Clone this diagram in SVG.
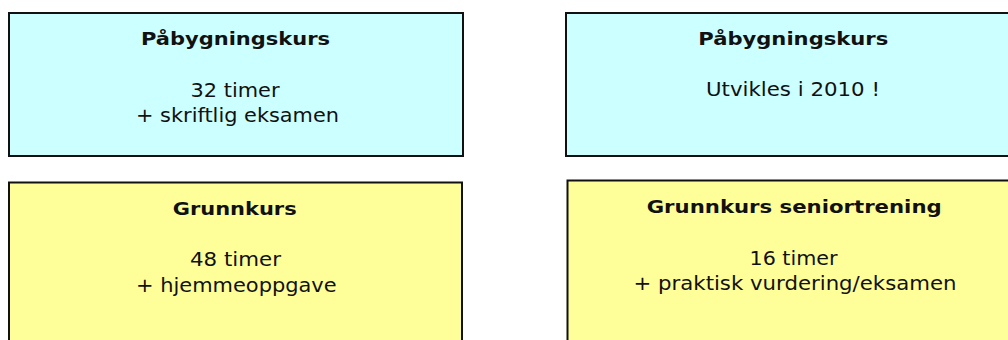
<svg xmlns="http://www.w3.org/2000/svg" width="1008" height="340" viewBox="0 0 1008 340">
<style>
.cyan{fill:#CCFFFF;stroke:#111;stroke-width:2}
.yel{fill:#FFFF99;stroke:#111;stroke-width:2}
.t{font-family:"DejaVu Sans",Verdana,sans-serif;font-size:18px;font-weight:bold;fill:#111;text-anchor:middle}
.b{font-family:"DejaVu Sans",Verdana,sans-serif;font-size:20px;fill:#111;text-anchor:middle}
</style>
<rect width="1008" height="340" fill="#fff"/>
<g id="node-pabygning-left">
<rect class="cyan" x="9" y="13" width="454" height="143"/>
<text class="t" x="235.5" y="44.5" textLength="189" lengthAdjust="spacingAndGlyphs">Påbygningskurs</text>
<text class="b" x="235" y="96.5" textLength="89" lengthAdjust="spacingAndGlyphs">32 timer</text>
<text class="b" x="237.5" y="122" textLength="203" lengthAdjust="spacingAndGlyphs">+ skriftlig eksamen</text>
</g>
<g id="node-pabygning-right">
<rect class="cyan" x="566" y="13" width="456" height="143"/>
<text class="t" x="793.3" y="44.5" textLength="190" lengthAdjust="spacingAndGlyphs">Påbygningskurs</text>
<text class="b" x="793" y="96" textLength="174" lengthAdjust="spacingAndGlyphs">Utvikles i 2010 !</text>
</g>
<g id="node-grunnkurs-left">
<rect class="yel" x="9" y="182.5" width="453" height="170"/>
<text class="t" x="234.7" y="214.5" textLength="124" lengthAdjust="spacingAndGlyphs">Grunnkurs</text>
<text class="b" x="235.5" y="266" textLength="91" lengthAdjust="spacingAndGlyphs">48 timer</text>
<text class="b" x="236.3" y="291.5" textLength="200.7" lengthAdjust="spacingAndGlyphs">+ hjemmeoppgave</text>
</g>
<g id="node-grunnkurs-right">
<rect class="yel" x="567.5" y="180.5" width="456" height="170"/>
<text class="t" x="794.2" y="213.3" textLength="295" lengthAdjust="spacingAndGlyphs">Grunnkurs seniortrening</text>
<text class="b" x="793.5" y="265" textLength="88" lengthAdjust="spacingAndGlyphs">16 timer</text>
<text class="b" x="795" y="290" textLength="323" lengthAdjust="spacingAndGlyphs">+ praktisk vurdering/eksamen</text>
</g>
<g id="connectors"/>
</svg>
